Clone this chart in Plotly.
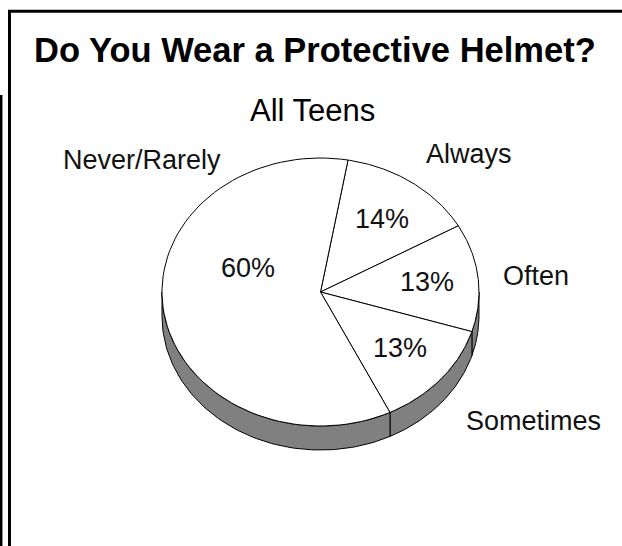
import numpy as np
import plotly.graph_objects as go

# Data, clockwise from the top of the pie
labels = ["Always", "Often", "Sometimes", "Never/Rarely"]
values = [14, 13, 13, 60]

title = "Do You Wear a Protective Helmet?"
subtitle = "All Teens"

# Layout (pixel space of the 622x546 page)
W, H = 622, 546
CX, CY = 320.5, 292      # pie centre
RX, RY = 158.5, 134      # ellipse radii of the top face
DEPTH = 24               # thickness of the 3D rim
START = 80               # angle of the first slice edge, degrees

# label anchors (x, y) in pixels
inner_pos = [(382, 219), (427, 282), (400, 348), (248, 268)]
outer_pos = [(469, 154), (536, 276), (533, 421), (142, 160)]

FONT = "Liberation Sans, Arial, sans-serif"


def arc(a0, a1, n=80, dy=0):
    t = np.radians(np.linspace(a0, a1, n))
    return CX + RX * np.cos(t), CY - RY * np.sin(t) + dy


total = sum(values)
edges = START - np.concatenate([[0], np.cumsum(values)]) / total * 360

fig = go.Figure()

# --- rim (front half only) ---
for i in range(len(values)):
    hi, lo = edges[i], edges[i + 1]
    for k in (-720, -360, 0, 360):
        a = max(lo, -180 + k)
        b = min(hi, 0 + k)
        if b <= a:
            continue
        xt, yt = arc(b, a)
        xb, yb = arc(a, b, dy=DEPTH)
        fig.add_trace(go.Scatter(
            x=np.concatenate([xt, xb, xt[:1]]),
            y=np.concatenate([yt, yb, yt[:1]]),
            mode="lines", fill="toself", fillcolor="#808080",
            line=dict(color="black", width=1),
            hoverinfo="skip", showlegend=False,
        ))

# --- top face ---
for i, (lab, v) in enumerate(zip(labels, values)):
    xa, ya = arc(edges[i], edges[i + 1])
    fig.add_trace(go.Scatter(
        x=np.concatenate([[CX], xa, [CX]]),
        y=np.concatenate([[CY], ya, [CY]]),
        mode="lines", fill="toself", fillcolor="white",
        line=dict(color="black", width=1),
        name=lab, hoverinfo="name", showlegend=False,
    ))

# --- labels ---
for lab, v, (xi, yi), (xo, yo) in zip(labels, values, inner_pos, outer_pos):
    fig.add_annotation(x=xi, y=yi, text=f"{v}%", showarrow=False,
                       font=dict(family=FONT, size=27, color="#111"))
    fig.add_annotation(x=xo, y=yo, text=lab, showarrow=False,
                       font=dict(family=FONT, size=27, color="#111"))

fig.add_annotation(x=315, y=50, text=f"<b>{title}</b>", showarrow=False,
                   font=dict(family=FONT, size=34.5, color="black"))
fig.add_annotation(x=312, y=110, text=subtitle, showarrow=False,
                   font=dict(family=FONT, size=31, color="black"))

# frame
fig.add_shape(type="rect", x0=9.5, y0=11.3, x1=W + 20, y1=H + 20,
              line=dict(color="black", width=3))
fig.add_shape(type="line", x0=1.2, y0=95, x1=1.2, y1=H + 20,
              line=dict(color="black", width=2.5))

fig.update_layout(
    width=W, height=H,
    margin=dict(l=0, r=0, t=0, b=0),
    paper_bgcolor="white", plot_bgcolor="white",
    xaxis=dict(range=[0, W], visible=False, fixedrange=True),
    yaxis=dict(range=[H, 0], visible=False, fixedrange=True),
)

fig.write_html("out.html", config={"displayModeBar": False},
               post_script="document.body.style.margin='0';")
